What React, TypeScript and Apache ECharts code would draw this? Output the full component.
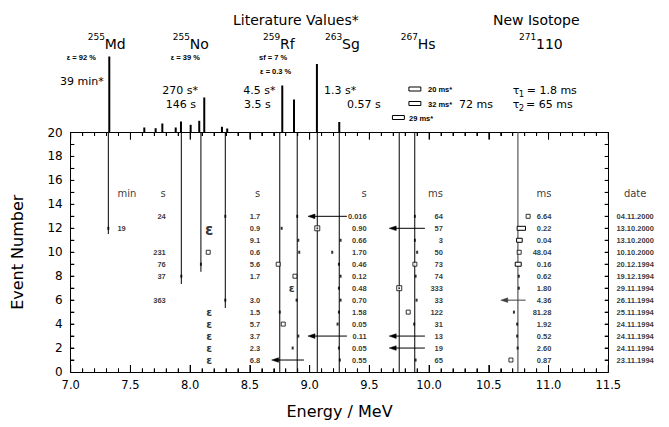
import React, { useEffect, useRef } from "react";
import * as echarts from "echarts";

// ---------------- data ----------------
const energyMin = 7.0;
const energyMax = 11.5;
const eventMax = 20;

// axis tick marks
const energyMajorTicks = [7.0, 7.5, 8.0, 8.5, 9.0, 9.5, 10.0, 10.5, 11.0, 11.5];
const energyMinorTicks = [
  7.1, 7.2, 7.3, 7.4, 7.6, 7.7, 7.8, 7.9, 8.1, 8.2, 8.3, 8.4, 8.6, 8.7, 8.8, 8.9,
  9.1, 9.2, 9.3, 9.4, 9.6, 9.7, 9.8, 9.9, 10.1, 10.2, 10.3, 10.4, 10.6, 10.7, 10.8, 10.9,
  11.1, 11.2, 11.3, 11.4,
];
const eventTicks = [1, 2, 3, 4, 5, 6, 7, 8, 9, 10, 11, 12, 13, 14, 15, 16, 17, 18, 19];

// upper panel: literature alpha lines (energy / MeV, relative intensity)
const litEnergy = [7.323, 7.616, 7.711, 7.767, 7.879, 7.923, 8.004, 8.076, 8.118, 8.266, 8.31, 8.771, 8.869, 9.061, 9.248];
const litIntensity = [76, 5, 4.3, 9, 5, 11, 7.7, 11.7, 35, 5.7, 4, 47, 33, 68.5, 10.5];

// 267Hs literature lines drawn as boxes
const hsBoxEnergy = [9.881, 9.881, 9.743];
const hsBoxIntensity = [43.5, 29, 15];
const hsBoxWidth = [0.1, 0.1, 0.1];

// lower panel: decay chains
const eventNo = [13, 12, 11, 10, 9, 8, 7, 6, 5, 4, 3, 2, 1];
const eventDate = ["04.11.2000", "13.10.2000", "13.10.2000", "10.10.2000", "20.12.1994", "19.12.1994", "29.11.1994", "26.11.1994", "25.11.1994", "24.11.1994", "24.11.1994", "24.11.1994", "23.11.1994"];
const mdTime = ["", "19", "", "", "", "", "", "", "", "", "", "", ""];
const noTime = ["24", "", "", "231", "76", "37", "", "363", "", "", "", "", ""];
const rfTime = ["1.7", "0.9", "9.1", "0.6", "5.6", "1.7", "", "3.0", "1.5", "5.7", "3.7", "2.3", "6.8"];
const sgTime = ["0.016", "0.90", "0.66", "1.70", "0.46", "0.12", "0.48", "0.70", "1.58", "0.05", "0.11", "0.05", "0.55"];
const hsTime = ["64", "57", "3", "50", "73", "74", "333", "33", "122", "31", "13", "19", "65"];
const dsTime = ["6.64", "0.22", "0.04", "48.04", "0.16", "0.62", "1.80", "4.36", "81.28", "1.92", "0.52", "2.60", "0.87"];
const columnUnits = ["min", "s", "s", "s", "ms", "ms", "date"];

// full alpha energy from the detector: [energy, event]
const alphaDots = [
  [8.294, 13], [8.896, 13], [9.881, 13],
  [7.315, 12], [8.766, 12],
  [8.905, 11], [9.259, 11], [9.881, 11],
  [8.913, 10], [9.189, 10], [9.9, 10],
  [8.09, 9], [9.245, 9],
  [7.926, 8], [9.259, 8], [9.887, 8], [10.751, 8],
  [9.245, 7], [10.751, 7],
  [8.294, 6], [8.891, 6], [9.259, 6], [9.895, 6],
  [8.75, 5], [9.245, 5], [10.71, 5],
  [9.234, 4], [9.875, 4], [10.737, 4],
  [8.905, 3], [10.737, 3],
  [8.858, 2], [9.245, 2], [10.741, 2],
  [9.253, 1], [9.887, 1],
];
// open squares: [energy, event]
const openSquares = [
  [10.829, 13], [8.151, 10], [10.754, 10], [8.737, 9], [9.881, 9],
  [8.877, 8], [9.825, 5], [8.779, 4], [10.685, 1],
];
// crossed squares: [energy, event]
const crossedSquares = [[9.064, 12], [9.75, 7]];
// energy ranges: [centre energy, event, width MeV]
const energyRanges = [[10.772, 12, 0.07], [10.756, 11, 0.047], [10.746, 9, 0.05]];
// escaped alphas (upper limits): [from energy, to energy, event]
const escapeArrows = [
  [9.312, 8.986, 13], [9.965, 9.666, 12], [10.808, 10.6, 6],
  [9.312, 8.986, 3], [9.965, 9.666, 3], [9.965, 9.666, 2], [8.953, 8.682, 1],
];
// EC decays: [energy, event]
const ecMarks = [[8.159, 5], [8.159, 4], [8.159, 3], [8.159, 2], [8.159, 1], [8.849, 7]];
const ecMarkBig = [[8.159, 11.85]];
// reference energies: full height lines
const refEnergy = [8.75, 8.896, 9.064, 9.248, 9.75, 9.88];
const newEnergy = [10.743];
// chain-start lines from the top: [energy, lowest event]
const chainLines = [[7.315, 11.52], [7.926, 7.35], [8.09, 8.37], [8.294, 5.34]];

// ---------------- layout constants ----------------
const FONT = "DejaVu Sans";
const SMALL = "Liberation Sans";
const colX = { md: 7.387, no: 7.8, rf: 8.59, sg: 9.482, hs: 10.12, ds: 11.028, date: 11.725 };
const headerY = 14.9;

function textSeries(x: number, labels: string[], position: string, extra: any = {}) {
  return {
    type: "scatter",
    xAxisIndex: 0,
    yAxisIndex: 0,
    symbol: "circle",
    symbolSize: 1,
    itemStyle: { color: "transparent" },
    silent: true,
    clip: false,
    z: 5,
    data: labels
      .map((t, i) => ({ value: [x, eventNo[i]], name: t }))
      .filter((d) => d.name !== ""),
    label: {
      show: true,
      position,
      distance: 0,
      formatter: (p: any) => p.name,
      fontFamily: SMALL,
      fontWeight: "bold",
      fontSize: 7.5,
      color: "#000",
      ...extra,
    },
  };
}

function buildOption() {
  const axisLine = { show: true, onZero: false, lineStyle: { color: "#000", width: 1 } };
  const xCommon = {
    type: "value",
    min: energyMin,
    max: energyMax,
    interval: 0.5,
    gridIndex: 0,
    axisLine,
    axisTick: { show: true, inside: true, length: 7, lineStyle: { color: "#000", width: 1 } },
    minorTick: { show: true, splitNumber: 5, length: 3.5, lineStyle: { color: "#000", width: 1 } },
    splitLine: { show: false },
    minorSplitLine: { show: false },
  };
  const yCommon = {
    type: "value",
    min: 0,
    max: eventMax,
    interval: 1,
    gridIndex: 0,
    axisLine,
    axisTick: { show: true, inside: true, length: 3.5, lineStyle: { color: "#000", width: 1 } },
    splitLine: { show: false },
  };

  const headerData = [
    { value: [colX.md, headerY], name: columnUnits[0], pos: "right" },
    { value: [colX.no, headerY], name: columnUnits[1], pos: "left" },
    { value: [colX.rf, headerY], name: columnUnits[2], pos: "left" },
    { value: [colX.sg, headerY], name: columnUnits[3], pos: "left" },
    { value: [colX.hs, headerY], name: columnUnits[4], pos: "left" },
    { value: [colX.ds, headerY], name: columnUnits[5], pos: "left" },
    { value: [colX.date, headerY], name: columnUnits[6], pos: "inside" },
  ];

  const textEls: any[] = [];
  const addText = (t: string, x: number, y: number, size: number, family = FONT, weight = "normal") => {
    textEls.push({
      type: "text",
      x,
      y,
      silent: true,
      style: { text: t, fontSize: size, fontFamily: family, fontWeight: weight, fill: "#000", align: "left", verticalAlign: "middle" },
    });
  };
  addText("Literature Values*", 233, 20, 14);
  addText("New Isotope", 493, 20, 14);
  const iso = [
    ["255", "Md", 87.7],
    ["255", "No", 172.7],
    ["259", "Rf", 263],
    ["263", "Sg", 325],
    ["267", "Hs", 400.7],
    ["271", "110", 519],
  ];
  iso.forEach(([a, s, x]) => {
    addText(a as string, x as number, 36.5, 9);
    addText(s as string, (x as number) + 17, 43.5, 14);
  });
  addText("ε = 92 %", 66.7, 57, 7.5, SMALL, "bold");
  addText("ε = 39 %", 170.7, 57, 7.5, SMALL, "bold");
  addText("sf = 7 %", 259, 57, 7.5, SMALL, "bold");
  addText("ε = 0.3 %", 260, 71, 7.5, SMALL, "bold");
  addText("39 min*", 60, 81.7, 11);
  addText("270 s*", 162.3, 90, 11);
  addText("146 s", 165.7, 104.3, 11);
  addText("4.5 s*", 243.3, 90, 11);
  addText("3.5 s", 244, 104.3, 11);
  addText("1.3 s*", 324, 90, 11);
  addText("0.57 s", 347, 104.3, 11);
  addText("20 ms*", 428, 89.3, 7.5, SMALL, "bold");
  addText("32 ms*", 428, 104.3, 7.5, SMALL, "bold");
  addText("29 ms*", 409, 118.3, 7.5, SMALL, "bold");
  addText("72 ms", 459, 104.3, 11);
  addText("τ", 512.7, 90, 11);
  addText("1", 518.8, 94, 8.5);
  addText("= 1.8 ms", 526.7, 90, 11);
  addText("τ", 512.7, 104.3, 11);
  addText("2", 518.8, 108.3, 8.5);
  addText("= 65 ms", 526, 104.3, 11);

  const epsLabel = (size: number) => ({
    show: true,
    position: "inside",
    formatter: () => "ε",
    fontFamily: FONT,
    fontWeight: "bold",
    fontSize: size,
    lineHeight: size,
    color: "#000",
  });

  // rows for the line-drawing series: [energy, event from, event to, kind]
  // kind 0: black rule, 1: grey rule, 2: major energy tick, 3: minor energy tick, 4: event tick
  const ruleRows = [
    ...refEnergy.map((e) => [e, 0, eventMax, 0]),
    ...newEnergy.map((e) => [e, 0, eventMax, 1]),
    ...chainLines.map((c) => [c[0], c[1], eventMax, 0]),
    ...energyMajorTicks.map((e) => [e, 0, eventMax, 2]),
    ...energyMinorTicks.map((e) => [e, 0, eventMax, 3]),
    ...eventTicks.map((v) => [energyMin, v, v, 4]),
  ];

  return {
    animation: false,
    backgroundColor: "#fff",
    textStyle: { fontFamily: FONT },
    grid: [
      { left: 70.7, right: 60.7, top: 132.5, bottom: 55 },
      { left: 70.7, right: 60.7, top: 32.5, height: 100 },
    ],
    xAxis: [
      {
        ...xCommon,
        position: "bottom",
        axisLabel: { formatter: (v: number) => v.toFixed(1), fontFamily: FONT, fontSize: 11.5, color: "#000", margin: 7 },
        name: "Energy / MeV",
        nameLocation: "middle",
        nameGap: 31,
        nameTextStyle: { fontFamily: FONT, fontSize: 16, color: "#000" },
      },
      { ...xCommon, position: "top", axisLabel: { show: false } },
      { type: "value", gridIndex: 1, min: energyMin, max: energyMax, show: false },
    ],
    yAxis: [
      {
        ...yCommon,
        position: "left",
        axisLabel: {
          formatter: (v: number) => (v % 2 === 0 ? String(v) : ""),
          fontFamily: FONT,
          fontSize: 12,
          color: "#000",
          margin: 8,
        },
        name: "Event Number",
        nameLocation: "middle",
        nameGap: 45,
        nameRotate: 90,
        nameTextStyle: { fontFamily: FONT, fontSize: 16, color: "#000" },
      },
      { ...yCommon, position: "right", axisLabel: { show: false } },
      { type: "value", gridIndex: 1, min: 0, max: 100, show: false },
    ],
    graphic: textEls,
    series: [
      // upper panel literature spectrum
      {
        type: "bar",
        xAxisIndex: 2,
        yAxisIndex: 2,
        barWidth: 2,
        silent: true,
        itemStyle: { color: "#000" },
        data: litEnergy.map((e, i) => [e, litIntensity[i]]),
      },
      {
        type: "custom",
        xAxisIndex: 2,
        yAxisIndex: 2,
        silent: true,
        data: hsBoxEnergy.map((e, i) => [e, hsBoxIntensity[i], hsBoxWidth[i]]),
        encode: { x: 0, y: 1 },
        renderItem: (_p: any, api: any) => {
          const e = api.value(0), h = api.value(1), w = api.value(2);
          const a = api.coord([e - w / 2, h]);
          const b = api.coord([e + w / 2, h]);
          return {
            type: "rect",
            shape: { x: a[0], y: a[1] - 2, width: b[0] - a[0], height: 4 },
            style: { fill: "#fff", stroke: "#000", lineWidth: 1 },
          };
        },
      },
      // vertical rules and tick marks
      {
        type: "custom",
        xAxisIndex: 0,
        yAxisIndex: 0,
        silent: true,
        z: 1,
        data: ruleRows,
        encode: { x: 0, y: [1, 2] },
        renderItem: (_p: any, api: any) => {
          const kind = api.value(3);
          const a = api.coord([api.value(0), api.value(1)]);
          const b = api.coord([api.value(0), api.value(2)]);
          if (kind === 2 || kind === 3) {
            const L = kind === 2 ? 7 : 3.5;
            return {
              type: "group",
              children: [
                { type: "line", shape: { x1: a[0], y1: a[1], x2: a[0], y2: a[1] - L }, style: { stroke: "#000", lineWidth: 1 } },
                { type: "line", shape: { x1: b[0], y1: b[1], x2: b[0], y2: b[1] + L }, style: { stroke: "#000", lineWidth: 1 } },
              ],
            };
          }
          if (kind === 4) {
            const r = api.coord([energyMax, api.value(1)]);
            return {
              type: "group",
              children: [
                { type: "line", shape: { x1: a[0], y1: a[1], x2: a[0] + 3.5, y2: a[1] }, style: { stroke: "#000", lineWidth: 1 } },
                { type: "line", shape: { x1: r[0], y1: r[1], x2: r[0] - 3.5, y2: r[1] }, style: { stroke: "#000", lineWidth: 1 } },
              ],
            };
          }
          const grey = kind === 1;
          return {
            type: "line",
            shape: { x1: a[0], y1: a[1], x2: b[0], y2: b[1] },
            style: { stroke: grey ? "#808080" : "#000", lineWidth: grey ? 1.6 : 1 },
          };
        },
      },
      // escape arrows
      {
        type: "custom",
        xAxisIndex: 0,
        yAxisIndex: 0,
        silent: true,
        z: 3,
        data: escapeArrows,
        encode: { x: [0, 1], y: 2 },
        renderItem: (_p: any, api: any) => {
          const a = api.coord([api.value(0), api.value(2)]);
          const b = api.coord([api.value(1), api.value(2)]);
          const col = api.value(0) > 10.5 ? "#404040" : "#000";
          return {
            type: "group",
            children: [
              { type: "line", shape: { x1: a[0], y1: a[1], x2: b[0] + 5, y2: b[1] }, style: { stroke: col, lineWidth: 1 } },
              {
                type: "polygon",
                shape: { points: [[b[0], b[1]], [b[0] + 7, b[1] - 2.3], [b[0] + 7, b[1] + 2.3]] },
                style: { fill: col, stroke: col, lineWidth: 0.5 },
              },
            ],
          };
        },
      },
      // energy ranges (open bars)
      {
        type: "custom",
        xAxisIndex: 0,
        yAxisIndex: 0,
        silent: true,
        z: 3,
        data: energyRanges,
        encode: { x: 0, y: 1 },
        renderItem: (_p: any, api: any) => {
          const e = api.value(0), n = api.value(1), w = api.value(2);
          const a = api.coord([e - w / 2, n]);
          const b = api.coord([e + w / 2, n]);
          return {
            type: "rect",
            shape: { x: a[0], y: a[1] - 2, width: b[0] - a[0], height: 4 },
            style: { fill: "#fff", stroke: "#000", lineWidth: 1 },
          };
        },
      },
      // dots
      {
        type: "scatter",
        xAxisIndex: 0,
        yAxisIndex: 0,
        silent: true,
        z: 4,
        symbol: "rect",
        symbolSize: [2, 3],
        itemStyle: { color: "#000" },
        data: alphaDots,
      },
      // open squares
      {
        type: "scatter",
        xAxisIndex: 0,
        yAxisIndex: 0,
        silent: true,
        z: 4,
        symbol: "rect",
        symbolSize: 4,
        itemStyle: { color: "#fff", borderColor: "#000", borderWidth: 1 },
        data: openSquares,
      },
      // crossed squares
      {
        type: "scatter",
        xAxisIndex: 0,
        yAxisIndex: 0,
        silent: true,
        z: 4,
        symbol: "rect",
        symbolSize: 5,
        itemStyle: { color: "#fff", borderColor: "#000", borderWidth: 1 },
        data: crossedSquares,
      },
      {
        type: "scatter",
        xAxisIndex: 0,
        yAxisIndex: 0,
        silent: true,
        z: 5,
        symbol: "rect",
        symbolSize: 1.6,
        itemStyle: { color: "#000" },
        data: crossedSquares,
      },
      // EC marks
      {
        type: "scatter",
        xAxisIndex: 0,
        yAxisIndex: 0,
        silent: true,
        z: 5,
        symbolSize: 1,
        itemStyle: { color: "transparent" },
        data: ecMarks,
        label: epsLabel(10.5),
      },
      {
        type: "scatter",
        xAxisIndex: 0,
        yAxisIndex: 0,
        silent: true,
        z: 5,
        symbolSize: 1,
        itemStyle: { color: "transparent" },
        data: ecMarkBig,
        label: epsLabel(15),
      },
      // value columns
      textSeries(colX.md, mdTime, "right"),
      textSeries(colX.no, noTime, "left"),
      textSeries(colX.rf, rfTime, "left"),
      textSeries(colX.sg, sgTime, "left"),
      textSeries(colX.hs, hsTime, "left"),
      textSeries(colX.ds, dsTime, "left"),
      textSeries(colX.date, eventDate, "inside"),
      // column headers
      ...headerData.map((h) => ({
        type: "scatter",
        xAxisIndex: 0,
        yAxisIndex: 0,
        silent: true,
        clip: false,
        z: 5,
        symbolSize: 1,
        itemStyle: { color: "transparent" },
        data: [{ value: h.value, name: h.name }],
        label: {
          show: true,
          position: h.pos,
          distance: 0,
          formatter: (p: any) => p.name,
          fontFamily: FONT,
          fontSize: 10,
          color: "#000",
        },
      })),
    ],
  };
}

export default function App() {
  const ref = useRef<HTMLDivElement>(null);
  useEffect(() => {
    if (!ref.current) return;
    const chart = echarts.init(ref.current, null, { renderer: "svg" });
    chart.setOption(buildOption() as any);
    return () => chart.dispose();
  }, []);
  return (
    <div
      ref={ref}
      style={{ position: "fixed", left: 0, top: 0, width: 669, height: 427, background: "#fff" }}
    />
  );
}
